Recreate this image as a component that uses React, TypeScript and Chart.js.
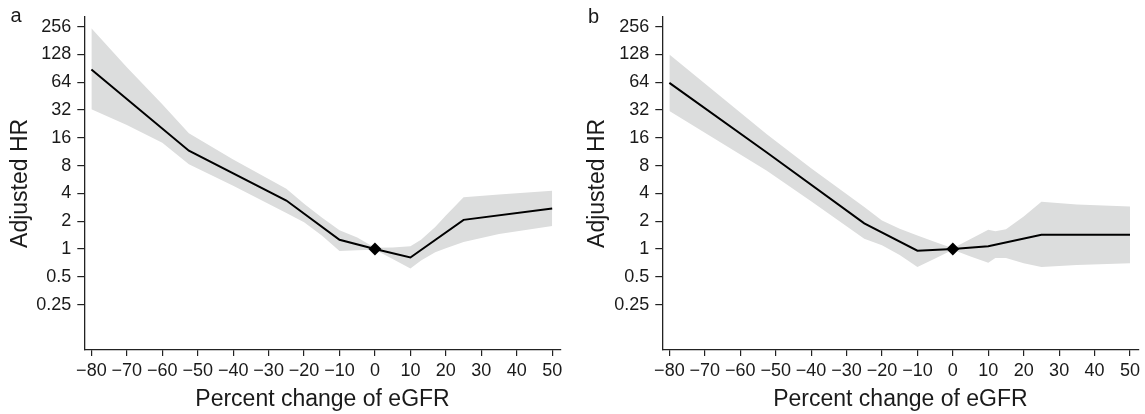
import React, { useEffect, useRef } from "react";
import { Chart, registerables } from "chart.js";

Chart.register(...registerables);

const FONT = '"Liberation Sans", Arial, Helvetica, sans-serif';
const TEXT = "#1a1a1a";
const AXIS = "#222222";
const BAND = "#dcdddd";

// Tick labels
const X_TICKS = [-80, -70, -60, -50, -40, -30, -20, -10, 0, 10, 20, 30, 40, 50];
const Y_TICKS = [0.25, 0.5, 1, 2, 4, 8, 16, 32, 64, 128, 256];

// Panel a: adjusted HR by percent change of eGFR
const A_LINE_X = [-80, -52.5, -25, -10, 0, 10, 25, 50];
const A_LINE_HR = [88, 11.6, 3.35, 1.26, 1, 0.81, 2.07, 2.75];
const A_BAND_X = [-80, -70, -60, -52.5, -40, -25, -20, -15, -10, -5, 0, 5, 10, 13, 17, 20, 25, 35, 50];
const A_UPPER = [247, 93, 37, 18, 9.3, 4.5, 3.1, 2.2, 1.6, 1.33, 1.03, 1.04, 1.07, 1.26, 1.73, 2.3, 3.64, 3.9, 4.29];
const A_LOWER = [32.6, 22, 14.2, 8.3, 4.86, 2.45, 1.95, 1.4, 0.95, 0.97, 0.98, 0.78, 0.615, 0.75, 0.92, 1.02, 1.19, 1.45, 1.77];

// Panel b
const B_LINE_X = [-80, -52.5, -25, -10, 0, 10, 25, 50];
const B_LINE_HR = [63, 11.1, 1.9, 0.96, 1, 1.07, 1.43, 1.43];
const B_BAND_X = [-80, -52.5, -40, -25, -20, -15, -10, -5, 0, 5, 10, 12, 15, 20, 25, 35, 50];
const B_UPPER = [128, 17.5, 7.5, 2.85, 2.04, 1.66, 1.4, 1.19, 1.02, 1.28, 1.62, 1.56, 1.64, 2.25, 3.26, 3.03, 2.88];
const B_LOWER = [31.3, 7.05, 3.3, 1.29, 1.1, 0.86, 0.64, 0.79, 0.98, 0.83, 0.71, 0.8, 0.8, 0.7, 0.64, 0.67, 0.7];

// Reference point
const REF_X = [0];
const REF_HR = [1];

const X_TITLE = "Percent change of eGFR";
const Y_TITLE = "Adjusted HR";

type PanelSpec = {
  letter: string;
  left: number;
  width: number;
  padRight: number;
  yTitlePad: number;
  letterX: number;
  letterY: number;
  lineX: number[];
  lineHR: number[];
  bandX: number[];
  upper: number[];
  lower: number[];
};

const PANELS: PanelSpec[] = [
  {
    letter: "a", left: 0, width: 578, padRight: 17.3, yTitlePad: 7.2, letterX: 10.5, letterY: 22,
    lineX: A_LINE_X, lineHR: A_LINE_HR, bandX: A_BAND_X, upper: A_UPPER, lower: A_LOWER,
  },
  {
    letter: "b", left: 578, width: 567, padRight: 6.3, yTitlePad: 6.2, letterX: 10, letterY: 22.7,
    lineX: B_LINE_X, lineHR: B_LINE_HR, bandX: B_BAND_X, upper: B_UPPER, lower: B_LOWER,
  },
];

const zip = (xs: number[], ys: number[]) => xs.map((x, i) => ({ x, y: ys[i] }));
const fmtX = (v: number | string) => {
  const n = Number(v);
  return n < 0 ? "\u2212" + Math.abs(n) : String(n);
};

const letterPlugin = {
  id: "panelLetter",
  afterDraw(chart: any, _args: any, opts: any) {
    const ctx = chart.ctx;
    ctx.save();
    ctx.font = `20px ${FONT}`;
    ctx.fillStyle = TEXT;
    ctx.textBaseline = "alphabetic";
    ctx.textAlign = "left";
    ctx.fillText(opts.text, opts.x, opts.y);
    ctx.restore();
  },
};

function makeConfig(p: PanelSpec): any {
  return {
    type: "line",
    data: {
      datasets: [
        {
          label: "upper",
          data: zip(p.bandX, p.upper),
          borderWidth: 0,
          borderColor: "rgba(0,0,0,0)",
          backgroundColor: BAND,
          pointRadius: 0,
          fill: "+1",
          tension: 0,
          order: 3,
        },
        {
          label: "lower",
          data: zip(p.bandX, p.lower),
          borderWidth: 0,
          borderColor: "rgba(0,0,0,0)",
          backgroundColor: BAND,
          pointRadius: 0,
          fill: false,
          tension: 0,
          order: 4,
        },
        {
          label: "HR",
          data: zip(p.lineX, p.lineHR),
          borderColor: "#000000",
          borderWidth: 2,
          pointRadius: 0,
          fill: false,
          tension: 0,
          order: 1,
        },
        {
          label: "ref",
          data: zip(REF_X, REF_HR),
          showLine: false,
          pointStyle: "rectRot",
          pointRadius: 6.5,
          pointBackgroundColor: "#000000",
          pointBorderColor: "#000000",
          pointBorderWidth: 0,
          order: 0,
        },
      ],
    },
    options: {
      responsive: false,
      animation: false,
      events: [],
      layout: { padding: { top: 15, left: 0, right: p.padRight, bottom: 0 } },
      plugins: {
        legend: { display: false },
        tooltip: { enabled: false },
        panelLetter: { text: p.letter, x: p.letterX, y: p.letterY },
      },
      scales: {
        x: {
          type: "linear",
          min: -82,
          max: 52.4,
          afterBuildTicks: (s: any) => {
            s.ticks = X_TICKS.map((v) => ({ value: v }));
          },
          afterFit: (s: any) => {
            s.height = 64;
          },
          ticks: {
            autoSkip: false,
            maxRotation: 0,
            minRotation: 0,
            padding: 4,
            color: TEXT,
            font: { family: FONT, size: 18 },
            callback: (v: any) => fmtX(v),
          },
          grid: { drawOnChartArea: false, drawTicks: true, tickLength: 6, color: AXIS, lineWidth: 1.2 },
          border: { display: true, color: AXIS, width: 1.3 },
          title: {
            display: true,
            text: X_TITLE,
            color: TEXT,
            font: { family: FONT, size: 23 },
            padding: { top: 0, bottom: 0.7 },
          },
        },
        y: {
          type: "logarithmic",
          min: 0.0805,
          max: 328,
          afterBuildTicks: (s: any) => {
            s.ticks = Y_TICKS.map((v) => ({ value: v }));
          },
          afterFit: (s: any) => {
            s.width = 84.3;
          },
          ticks: {
            autoSkip: false,
            padding: 6,
            color: TEXT,
            font: { family: FONT, size: 18 },
            callback: (v: any) => String(Number(v)),
          },
          grid: { drawOnChartArea: false, drawTicks: true, tickLength: 7, color: AXIS, lineWidth: 1.2 },
          border: { display: true, color: AXIS, width: 1.3 },
          title: {
            display: true,
            text: Y_TITLE,
            color: TEXT,
            font: { family: FONT, size: 23 },
            padding: { top: p.yTitlePad, bottom: 0 },
          },
        },
      },
    },
    plugins: [letterPlugin],
  };
}

function Panel({ spec }: { spec: PanelSpec }) {
  const ref = useRef<HTMLCanvasElement | null>(null);
  useEffect(() => {
    if (!ref.current) return;
    const chart = new Chart(ref.current, makeConfig(spec));
    return () => chart.destroy();
  }, [spec]);
  return (
    <canvas
      ref={ref}
      width={spec.width}
      height={414}
      style={{ position: "absolute", left: spec.left, top: 0, width: spec.width, height: 414 }}
    />
  );
}

export default function App() {
  return (
    <div style={{ position: "absolute", left: 0, top: 0, width: 1145, height: 414, background: "#ffffff" }}>
      {PANELS.map((p) => (
        <Panel key={p.letter} spec={p} />
      ))}
    </div>
  );
}
